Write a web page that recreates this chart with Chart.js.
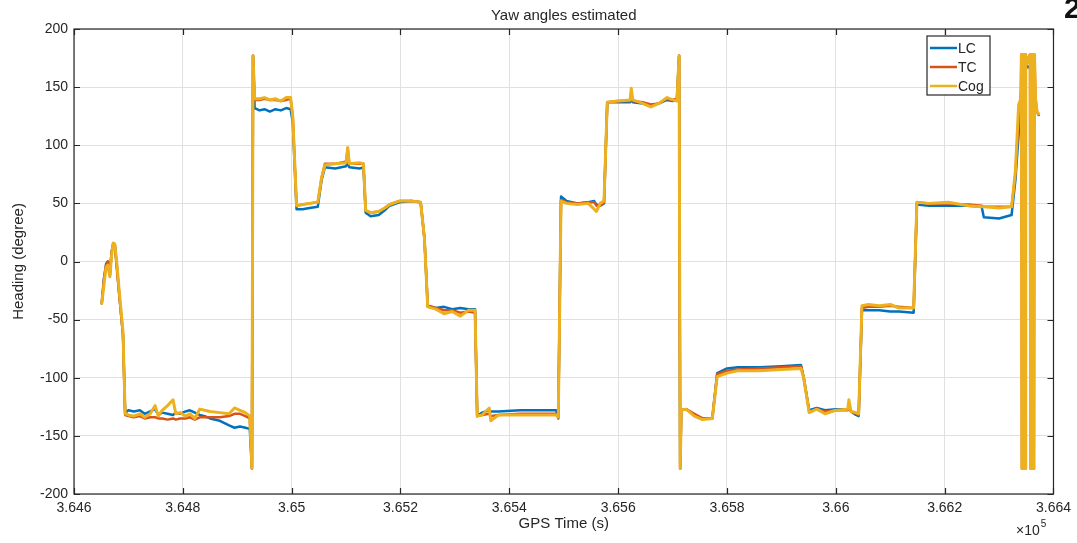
<!DOCTYPE html>
<html>
<head>
<meta charset="utf-8">
<script src="https://cdn.jsdelivr.net/npm/chart.js@4/dist/chart.umd.min.js"></script>
<style>
  html, body { margin: 0; padding: 0; background: #fff; }
  #wrap { width: 1077px; height: 543px; }
</style>
</head>
<body>
<div id="wrap"><canvas id="c" width="1077" height="543"></canvas></div>
<script>
// GPS time (s) and yaw estimates (degree)
const gpsTime = [
  364651, 364655, 364659, 364662, 364666, 364669, 364672, 364675, 364679, 364684, 364690, 364694,
  364700, 364710, 364721, 364730, 364740, 364749, 364755, 364762, 364772, 364782, 364787, 364795,
  364805, 364813, 364822, 364831, 364840, 364850, 364868, 364885, 364895, 364905, 364915, 364923,
  364927, 364929,
  364932, 364941, 364950, 364960, 364970, 364980, 364990, 364998, 365002, 365009,
  365020, 365033, 365048, 365055, 365061, 365080, 365100, 365103, 365106, 365125, 365132,
  365136, 365145, 365160, 365171, 365180, 365198, 365220, 365237, 365244,
  365250, 365265, 365280, 365295, 365310, 365325, 365337,
  365341, 365350, 365363, 365366, 365380, 365420, 365486, 365490,
  365495, 365505, 365525, 365545, 365556, 365560, 365567, 365574,
  365580, 365600, 365622, 365624, 365627, 365645, 365660, 365675, 365690, 365700, 365708,
  365712, 365714,
  365716, 365725, 365740, 365755, 365773,
  365782, 365800, 365820, 365860, 365900, 365936, 365941,
  365951, 365965, 365980, 366000, 366022, 366024, 366028, 366037, 366042,
  366048, 366060, 366080, 366100, 366116, 366143,
  366149, 366171, 366207, 366230, 366244, 366268, 366272, 366300, 366323, 366330, 366336, 366340,
  366341, 366342, 366343, 366344, 366345, 366346, 366347, 366348, 366349, 366351, 366354,
  366357, 366358, 366359, 366360, 366361, 366362, 366363, 366364, 366365, 366367, 366370, 366373
];
const lcHeading = [
  -36, -15, -2, 0, -12, 8, 15, 14, -5, -33, -63, -130,
  -128, -129, -128, -131, -129, -127, -132, -130, -131, -132, -130, -131,
  -129, -128, -130, -132, -133, -135, -137, -141, -143, -142, -143, -144,
  -178, 177,
  132, 130, 131, 129, 131, 130, 132, 131, 120, 45,
  45, 46, 47, 70, 81, 80, 82, 85, 81, 80, 81,
  42, 39, 40, 44, 48, 51, 52, 51, 20,
  -38, -40, -39, -41, -40, -41, -41,
  -133, -130, -128, -129, -129, -128, -128, -135,
  56, 52, 50, 51, 52, 49, 48, 50,
  137, 137, 137, 140, 137, 136, 134, 136, 139, 138, 139,
  177, -178,
  -128, -127, -132, -135, -135,
  -96, -92, -91, -91, -90, -89, -100,
  -128, -126, -128, -127, -127, -125, -129, -132, -133,
  -42, -42, -42, -43, -43, -44,
  49, 48, 48, 48, 48, 47, 38, 37, 40, 70, 110, 140,
  150, 152, 155, 158, 160, 162, 164, 165, 166, 167, 168,
  166, 160, 155, 150, 148, 145, 140, 138, 135, 130, 128, 126
];
const tcHeading = [
  -36, -15, -3, 0, -10, 8, 15, 14, -8, -33, -63, -132,
  -133, -134, -133, -135, -134, -134, -135, -135, -136, -135, -136, -135,
  -135, -134, -136, -134, -134, -134, -134, -133, -131, -131, -133, -135,
  -178, 177,
  139, 139, 140, 139, 139, 138, 139, 140, 125, 48,
  49, 50, 51, 72, 84, 84, 86, 97, 84, 84, 84,
  44, 42, 43, 46, 49, 52, 52, 51, 20,
  -38, -40, -42, -42, -44, -43, -44,
  -133, -132, -131, -133, -132, -131, -131, -134,
  53, 51, 50, 51, 51, 48, 48, 51,
  137, 138, 138, 141, 138, 137, 135, 136, 140, 139, 140,
  177, -178,
  -128, -127, -131, -135, -135,
  -97, -94, -93, -92, -91, -90, -100,
  -129, -127, -129, -128, -128, -126, -129, -131, -132,
  -40, -39, -39, -38, -39, -40,
  51, 50, 50, 49, 49, 48, 47, 47, 47, 75, 125, 140,
  178, -178, 178, -178, 178, -178, 178, -178, 178, 170, 175,
  178, -178, 178, -178, 178, -178, 178, -178, 178, 140, 128, 127
];
const cogHeading = [
  -36, -20, -5, -3, -13, 5, 16, 15, -3, -30, -60, -131,
  -132, -133, -131, -134, -131, -124, -133, -128, -124, -119, -131, -130,
  -133, -131, -135, -127, -128, -129, -130, -131, -126, -128, -130, -133,
  -178, 177,
  140, 140, 141, 139, 140, 138, 141, 141, 125, 48,
  49, 50, 51, 72, 83, 84, 85, 98, 84, 85, 84,
  44, 42, 43, 46, 49, 52, 52, 51, 20,
  -39, -41, -45, -43, -47, -42, -42,
  -133, -132, -126, -137, -132, -132, -132, -134,
  52, 50, 49, 50, 45, 43, 50, 52,
  137, 138, 139, 149, 139, 136, 133, 136, 141, 139, 138,
  177, -178,
  -128, -127, -133, -136, -135,
  -99, -96, -94, -94, -93, -92, -100,
  -130, -127, -131, -128, -127, -119, -129, -130, -131,
  -38, -37, -38, -37, -40, -40,
  51, 50, 51, 49, 48, 47, 47, 46, 47, 78, 135, 140,
  178, -178, 178, -178, 178, -178, 178, -178, 178, 170, 175,
  178, -178, 178, -178, 178, -178, 178, -178, 178, 140, 128, 127
];
const seriesNames = ['LC', 'TC', 'Cog'];
const seriesColors = ['#0072BD', '#D95319', '#EDB120'];
const xMin = 364600, xMax = 366400, xStep = 200;
const yMin = -200, yMax = 200, yStep = 50;

const FONT = '"Liberation Sans", Arial, Helvetica, sans-serif';
const INK = '#262626';

function pts(ys) { return gpsTime.map((t, i) => ({ x: t, y: ys[i] })); }

// MATLAB-like box, inward ticks, labels and legend
const matlabFrame = {
  id: 'matlabFrame',
  afterDraw(chart) {
    const { ctx, chartArea: a, scales: { x, y } } = chart;
    ctx.save();
    ctx.strokeStyle = INK;
    ctx.lineWidth = 1.2;
    ctx.strokeRect(a.left, a.top, a.right - a.left, a.bottom - a.top);
    ctx.beginPath();
    for (let v = xMin; v <= xMax; v += xStep) {
      const px = Math.round(x.getPixelForValue(v)) + 0.5;
      ctx.moveTo(px, a.bottom); ctx.lineTo(px, a.bottom - 6);
      ctx.moveTo(px, a.top); ctx.lineTo(px, a.top + 6);
    }
    for (let v = yMin; v <= yMax; v += yStep) {
      const py = Math.round(y.getPixelForValue(v)) + 0.5;
      ctx.moveTo(a.left, py); ctx.lineTo(a.left + 6, py);
      ctx.moveTo(a.right, py); ctx.lineTo(a.right - 6, py);
    }
    ctx.stroke();

    const cx = (a.left + a.right) / 2;
    ctx.fillStyle = INK;
    ctx.textAlign = 'center';
    ctx.textBaseline = 'middle';
    ctx.font = '15px ' + FONT;
    ctx.fillText('Yaw angles estimated', cx, 16);
    ctx.fillText('GPS Time (s)', cx, 524);
    ctx.save();
    ctx.translate(19, (a.top + a.bottom) / 2);
    ctx.rotate(-Math.PI / 2);
    ctx.fillText('Heading (degree)', 0, 0);
    ctx.restore();

    // exponent label
    ctx.textAlign = 'left';
    ctx.font = '14px ' + FONT;
    const base = '\u00d710';
    ctx.fillText(base, 1016, 531);
    const bw = ctx.measureText(base).width;
    ctx.font = '10px ' + FONT;
    ctx.fillText('5', 1016 + bw + 1, 524);

    // cut-off glyph at the page corner
    ctx.font = 'bold 30px ' + FONT;
    ctx.fillStyle = '#111';
    ctx.fillText('2', 1064, 10);

    // legend box
    const lx = 927, ly = 36, lw = 63, lh = 59;
    ctx.fillStyle = '#fff';
    ctx.fillRect(lx, ly, lw, lh);
    ctx.strokeStyle = INK;
    ctx.lineWidth = 1.2;
    ctx.strokeRect(lx, ly, lw, lh);
    ctx.font = '14px ' + FONT;
    seriesNames.forEach((name, i) => {
      const ry = ly + 12 + i * 19;
      ctx.strokeStyle = seriesColors[i];
      ctx.lineWidth = 2.5;
      ctx.beginPath();
      ctx.moveTo(lx + 3, ry); ctx.lineTo(lx + 30, ry);
      ctx.stroke();
      ctx.fillStyle = INK;
      ctx.fillText(name, lx + 31, ry + 1);
    });
    ctx.restore();
  }
};

new Chart(document.getElementById('c'), {
  type: 'line',
  data: {
    datasets: [
      { label: seriesNames[0], data: pts(lcHeading), borderColor: seriesColors[0], borderWidth: 2.5, order: 3 },
      { label: seriesNames[1], data: pts(tcHeading), borderColor: seriesColors[1], borderWidth: 2.5, order: 2 },
      { label: seriesNames[2], data: pts(cogHeading), borderColor: seriesColors[2], borderWidth: 3, order: 1 }
    ]
  },
  options: {
    responsive: false,
    animation: false,
    devicePixelRatio: 1,
    elements: {
      point: { radius: 0 },
      line: { tension: 0, borderJoinStyle: 'round', borderCapStyle: 'round' }
    },
    layout: { padding: { left: 0, top: 29, right: 22, bottom: 0 } },
    plugins: { legend: { display: false }, tooltip: { enabled: false }, title: { display: false } },
    scales: {
      x: {
        type: 'linear', min: xMin, max: xMax,
        afterFit: s => { s.height = 49; },
        afterBuildTicks: s => { s.ticks = []; for (let v = xMin; v <= xMax; v += xStep) s.ticks.push({ value: v }); },
        ticks: {
          color: INK, font: { family: FONT, size: 14 }, padding: 6, maxRotation: 0, autoSkip: false,
          callback: v => String(Number((v / 1e5).toFixed(3)))
        },
        grid: { color: '#e0e0e0', drawTicks: false },
        border: { display: false }
      },
      y: {
        min: yMin, max: yMax,
        afterFit: s => { s.width = 74; },
        ticks: { stepSize: yStep, color: INK, font: { family: FONT, size: 14 }, padding: 6 },
        grid: { color: '#e0e0e0', drawTicks: false },
        border: { display: false }
      }
    }
  },
  plugins: [matlabFrame]
});
</script>
</body>
</html>
